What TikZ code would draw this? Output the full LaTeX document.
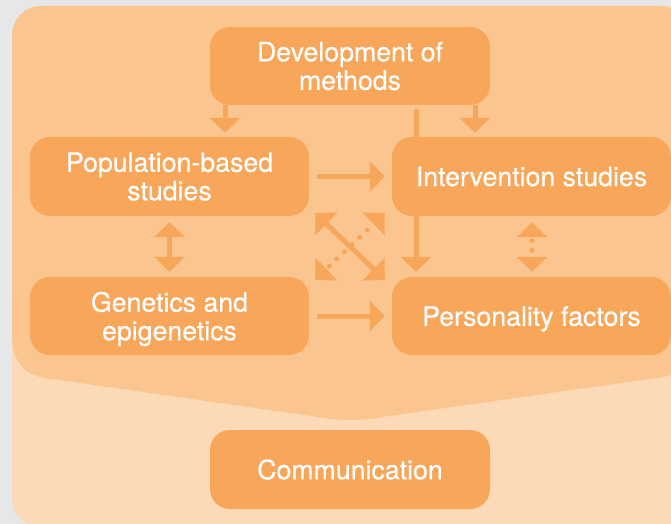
\documentclass[tikz,border=0pt]{standalone}
\usepackage{fontspec}
\setmainfont{TeX Gyre Heros}[FakeBold=0.45]
\usetikzlibrary{arrows.meta,calc}
\definecolor{bgray}{HTML}{E6E7E8}
\definecolor{boxc}{HTML}{F7A65A}
\definecolor{panelc}{HTML}{FBC58F}
\definecolor{lightc}{HTML}{FCDAB7}
\pgfdeclarelayer{panel}
\pgfdeclarelayer{conn}
\pgfsetlayers{panel,conn,main}
\begin{document}
\begin{tikzpicture}[x=1bp,y=-1bp,
  box/.style={fill=boxc, rounded corners=20bp, minimum width=280bp, minimum height=78bp,
    inner sep=0pt, text=white, align=center, font=\fontsize{26.7bp}{28.5bp}\selectfont},
  tipa/.tip={Triangle[length=15bp,width=30bp]},
  tipx/.tip={Triangle[length=15.5bp,width=31bp]},
  arr/.style={draw=boxc, line width=5bp, -tipa},
  darr/.style={draw=boxc, line width=5bp, tipa-tipa},
  xarr/.style={draw=boxc, line width=5bp, tipx-tipx},
]
\useasboundingbox (0,0) rectangle (671,524);
\begin{pgfonlayer}{panel}
  \clip (0,0) rectangle (671,524);
  \fill[bgray] (0,0) rectangle (671,524);
  \fill[lightc, rounded corners=28bp] (12,6) rectangle (700,527);
  \fill[panelc] (12,36) .. controls (12,19) and (25,6) .. (42,6) -- (658,6)
    .. controls (675,6) and (688,19) .. (688,36) -- (688,345)
    .. controls (688,365) and (678,375) .. (663,377)
    -- (382,417) .. controls (365,421) and (335,421) .. (318,417)
    -- (45,378) .. controls (25,375) and (12,362) .. (12,335) -- cycle;
\end{pgfonlayer}

\node[box] (dev) at (350,66) {Development of\\methods};
\node[box, minimum width=279bp, minimum height=79bp] (pop) at (169.5,176.5) {Population-based\\studies};
\node[box, minimum width=279bp, text depth=0bp] (gen) at (169.5,316) {Genetics and\\epigenetics};
\node[box, minimum width=279bp, minimum height=79bp] (int) at (531.5,176.5) {Intervention studies};
\node[box, minimum width=279bp, text depth=0bp] (pers) at (531.5,316) {Personality factors};
\node[box, minimum height=79bp] (com) at (350,469.5) {Communication};

\coordinate (vt) at (416,109);
\coordinate (xa) at ($(pop.south east)+(6,-3)$);
\coordinate (xb) at ($(pers.north west)+(-7,3)$);
\coordinate (xc) at ($(gen.north east)+(6,3)$);
\coordinate (xd) at ($(int.south west)+(-7,-3)$);

\begin{pgfonlayer}{conn}
  \draw[arr, shorten >=4bp] ([xshift=-125bp]dev.south) -- ([xshift=-125bp]dev.south |- pop.north);
  \draw[arr, shorten >=4bp] ([xshift=125bp]dev.south) -- ([xshift=125bp]dev.south |- int.north);
  \draw[arr, shorten >=5bp] (vt) -- (vt |- pers.north);
  \draw[arr, shorten <=8bp, shorten >=7bp] (pop.east) -- (int.west);
  \draw[arr, shorten <=8bp, shorten >=7bp] (gen.east) -- (pers.west);
  \draw[darr, shorten <=6bp, shorten >=5bp] (pop.south) -- (gen.north);
  \draw[darr, shorten <=6bp, shorten >=5bp, line cap=round,
        dash pattern=on 0bp off 9.5bp, dash phase=5bp] ([xshift=0.5bp]int.south) -- ([xshift=0.5bp]pers.north);
  \draw[xarr, line cap=round, dash pattern=on 0bp off 10.5bp, dash phase=5.5bp] (xc) -- (xd);
  \draw[xarr] (xa) -- (xb);
\end{pgfonlayer}
\end{tikzpicture}
\end{document}
